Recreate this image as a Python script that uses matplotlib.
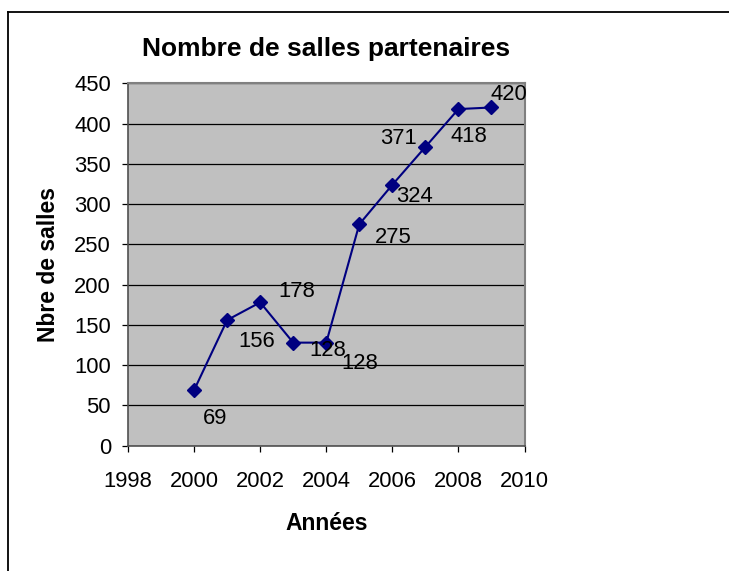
import matplotlib.pyplot as plt
from matplotlib.lines import Line2D

plt.rcParams["font.family"] = ["Liberation Sans", "DejaVu Sans"]

years = [2000, 2001, 2002, 2003, 2004, 2005, 2006, 2007, 2008, 2009]
salles = [69, 156, 178, 128, 128, 275, 324, 371, 418, 420]
x_ticks = [1998, 2000, 2002, 2004, 2006, 2008, 2010]
y_ticks = [0, 50, 100, 150, 200, 250, 300, 350, 400, 450]

# label placement in pixels, mimicking the Excel layout
label_offsets = [(21, -28), (30, -21), (37, 11), (35, -8), (34, -21),
                 (34, -13), (22, -12), (-27, 8), (11, -27), (17, 13)]

fig = plt.figure(figsize=(7.29, 5.71), dpi=100)
ax = fig.add_axes([0.1756, 0.2194, 0.5439, 0.6347])
ax.set_facecolor("#C0C0C0")

ax.set_xlim(x_ticks[0], x_ticks[-1])
ax.set_ylim(y_ticks[0], y_ticks[-1])
ax.set_xticks(x_ticks)
ax.set_yticks(y_ticks)
ax.yaxis.grid(True, color="black", linewidth=0.9)
ax.set_axisbelow(True)

for side in ("top", "right"):
    ax.spines[side].set_color("#808080")
    ax.spines[side].set_linewidth(1.5)
for side in ("left", "bottom"):
    ax.spines[side].set_color("#505050")
    ax.spines[side].set_linewidth(1.2)

ax.tick_params(direction="out", length=4.3, width=0.9, colors="black",
               labelsize=15.8)
ax.tick_params(axis="y", pad=8)
ax.tick_params(axis="x", pad=14)

ax.plot(years, salles, color="#000080", linewidth=1.5, marker="D",
        markersize=7.2, markerfacecolor="#000080", markeredgecolor="#000080",
        zorder=3)

for x, y, (dx, dy) in zip(years, salles, label_offsets):
    ax.annotate(str(y), (x, y), xytext=(dx, dy), textcoords="offset pixels",
                ha="center", va="center", fontsize=15.8, color="black",
                zorder=4)

ax.set_title("Nombre de salles partenaires", fontsize=19, fontweight="bold",
             pad=20)
ax.set_xlabel("Années", fontsize=16.5, fontweight="bold")
ax.set_ylabel("Nbre de salles", fontsize=16.5, fontweight="bold")
ax.xaxis.set_label_coords(0.5, -0.183)
ax.yaxis.set_label_coords(-0.172, 0.5)

# outer chart frame (top and left edges only are visible)
fig.add_artist(Line2D([0.011, 1.0], [0.979, 0.979], transform=fig.transFigure,
                      color="black", linewidth=1.3))
fig.add_artist(Line2D([0.011, 0.011], [0.0, 0.979], transform=fig.transFigure,
                      color="black", linewidth=1.3))

fig.savefig("out.png", dpi=100, facecolor="white")
